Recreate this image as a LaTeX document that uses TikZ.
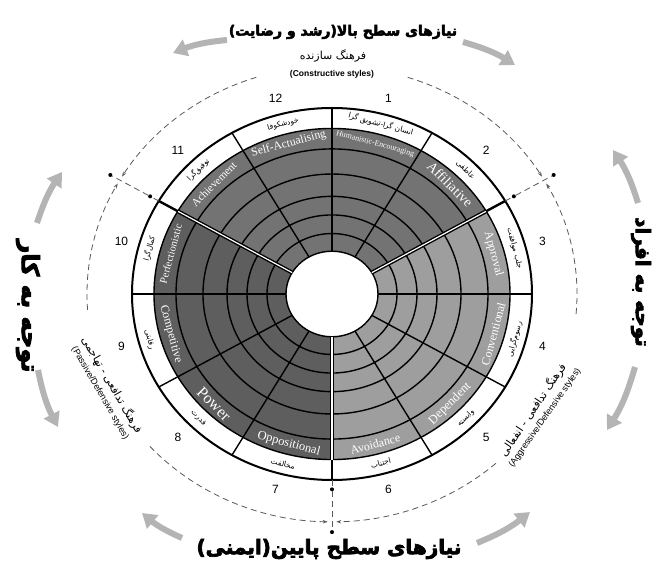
\documentclass[tikz,border=0pt]{standalone}
\usepackage{fontspec}
\setmainfont{Liberation Serif}
\setsansfont{Liberation Sans}
\newfontfamily\farsi[Script=Arabic]{DejaVu Sans}
\newfontfamily\farsiheavy[Script=Arabic, UprightFont={* Bold}, FakeBold=3.5]{DejaVu Sans}
\TeXXeTstate=1
\usetikzlibrary{arrows.meta,positioning}

\definecolor{topgrey}{HTML}{737373}
\definecolor{leftgrey}{HTML}{5E5E5E}
\definecolor{rightgrey}{HTML}{9E9E9E}
\definecolor{arrowgrey}{HTML}{B4B4B4}

\newcommand{\fatext}[1]{\beginR #1\endR}

\tikzset{
  eng/.style={text=white, inner sep=0pt},
  fa/.style={font=\farsi\fontsize{7.5}{8}\selectfont, inner sep=0pt},
  num/.style={font=\sffamily\fontsize{12}{12}\selectfont, inner sep=0pt},
  ring/.style={line width=1.4pt},
  sep/.style={dashed, dash pattern=on 6pt off 4pt, line width=0.8pt, black!65},
  septip/.style={sep, -{Stealth[length=5pt,width=3.5pt]}},
  bigarrow/.style={line width=6pt, arrowgrey, -{Triangle[width=17pt,length=14pt]}},
  dot/.style={circle, fill, inner sep=0pt, minimum size=4pt},
  title/.style={font=\farsiheavy\fontsize{14}{15}\selectfont},
  sidetitle/.style={font=\farsiheavy\fontsize{#1}{#1}\selectfont, rotate=-90},
  sidefa/.style={font=\farsi\fontsize{11}{12}\selectfont, inner sep=0pt},
  sideen/.style={font=\sffamily\fontsize{9}{10}\selectfont, inner sep=0pt},
}

\begin{document}
\begin{tikzpicture}[x=1pt, y=1pt]
\useasboundingbox (-332,-283) rectangle (329,294);

\begin{scope}[yscale=0.93]
  % three groups of styles
  \fill[topgrey] (30:178) arc[start angle=30, end angle=150, radius=178]
    -- (150:46) arc[start angle=150, end angle=30, radius=46] -- cycle;
  \fill[leftgrey] (150:178) arc[start angle=150, end angle=270, radius=178]
    -- (270:46) arc[start angle=270, end angle=150, radius=46] -- cycle;
  \fill[rightgrey] (-90:178) arc[start angle=-90, end angle=30, radius=178]
    -- (30:46) arc[start angle=30, end angle=-90, radius=46] -- cycle;

  % rings and spokes
  \foreach \r in {46,65,85,105,129,156,178}
    \draw[ring] (0,0) circle[radius=\r];
  \draw[line width=2pt] (0,0) circle[radius=200];
  \foreach \a in {0,60,90,120,180,210,240,300,330}
    \draw[ring] (\a:46) -- (\a:200);
  \foreach \a in {30,150,270} {
    \draw[ring, double=white, double distance=1.2pt] (\a:46) -- (\a:178);
    \draw[line width=2.4pt] (\a:178) -- (\a:200);
  }

  % segment labels
  \foreach \a/\rot/\e/\p/\s/\n in {
      75/-15/Humanistic-Encouraging/انسان گرا-تشویق گرا/8/1,
      45/-45/Affiliative/عاطفی/14/2,
      15/-75/Approval/جلب موافقت/12/3,
      -15/75/Conventional/رسوم‌گرایی/12/4,
      -45/45/Dependent/وابسته/12.5/5,
      -75/15/Avoidance/اجتناب/12/6,
      -105/-15/Oppositional/مخالفت/12.5/7,
      -135/-45/Power/قدرت/16/8,
      -165/-75/Competitive/رقابتی/12/9,
      165/75/Perfectionistic/کمال‌گرا/10.5/10,
      135/45/Achievement/توفیق‌گرا/11/11,
      105/15/Self-Actualising/خودشکوفا/11.7/12} {
    \node[fa, rotate=\rot] (fa\n) at (\a:189) {\fatext{\p}};
    \node[eng, rotate=\rot, font=\fontsize{\s}{\s}\selectfont] (en\n) at (\a:167) {\e};
    \node[num] (num\n) at (\a:218) {\n};
  }

  % borders between the three groups
  \foreach \a in {30,150,270} {
    \coordinate (rim\a) at (\a:200);
    \node[dot] (inner\a) at (\a:210) {};
    \node[dot] (outer\a) at (\a:256) {};
    \draw[sep] (rim\a) -- (inner\a) -- (outer\a);
  }

  % dashed arcs
  \coordinate (arcA) at (108:245);
  \coordinate (arcB) at (184:245);
  \coordinate (arcC) at (222:245);
  \coordinate (arcD) at (312:245);
  \coordinate (arcE) at (355:245);
  \coordinate (arcF) at (72:245);
  \draw[septip] (arcA) arc[start angle=108, end angle=149, radius=245];
  \draw[septip] (arcB) arc[start angle=184, end angle=151, radius=245];
  \draw[septip] (arcC) arc[start angle=222, end angle=269, radius=245];
  \draw[septip] (arcD) arc[start angle=312, end angle=271, radius=245];
  \draw[septip] (arcE) arc[start angle=355, end angle=389, radius=245];
  \draw[septip] (arcF) arc[start angle=72, end angle=31, radius=245];
\end{scope}

% titles
\node[title] (toptitle) at (11,262) {\fatext{نیازهای سطح بالا(رشد و رضایت)}};
\node[font=\farsi\fontsize{11}{12}\selectfont] (topfa) at (1,238) {\fatext{فرهنگ سازنده}};
\node[font=\sffamily\bfseries\fontsize{8.5}{9}\selectfont] (topen) at (0,220) {(Constructive styles)};
\node[font=\farsiheavy\fontsize{20}{20}\selectfont] (bottomtitle) at (-3,-255) {\fatext{نیازهای سطح پایین(ایمنی)}};
\node[sidetitle=24] (lefttitle) at (-304,-12) {\fatext{توجه به کار}};
\node[sidetitle=20] (righttitle) at (309,12) {\fatext{توجه به افراد}};

% side labels
\node[sidefa, rotate=-60] (leftfa) at (-220,-91) {\fatext{فرهنگ تدافعی - تهاجمی}};
\node[sideen, rotate=-60] (leften) at (-232,-99) {(Passive/Defensive styles)};
\node[sidefa, rotate=56] (rightfa) at (201,-116) {\fatext{فرهنگ تدافعی - انفعالی}};
\node[sideen, rotate=55] (righten) at (213,-124) {(Aggressive/Defensive styles)};

% big grey arrows
\coordinate (topleftA) at (-105,254);   \coordinate (topleftB) at (-159,241);
\coordinate (toprightA) at (131,252);   \coordinate (toprightB) at (183,229);
\coordinate (righttopA) at (306,91);    \coordinate (righttopB) at (281,144);
\coordinate (rightbotA) at (303,-73);   \coordinate (rightbotB) at (275,-136);
\coordinate (botrightA) at (145,-249);  \coordinate (botrightB) at (198,-218);
\coordinate (botleftA) at (-150,-244);  \coordinate (botleftB) at (-190,-219);
\coordinate (leftbotA) at (-294,-76);   \coordinate (leftbotB) at (-274,-133);
\coordinate (lefttopA) at (-295,71);    \coordinate (lefttopB) at (-270,122);
\draw[bigarrow] (topleftA) to[bend right=8] (topleftB);
\draw[bigarrow] (toprightA) to[bend left=8] (toprightB);
\draw[bigarrow] (righttopA) to[bend right=8] (righttopB);
\draw[bigarrow] (rightbotA) to[bend left=8] (rightbotB);
\draw[bigarrow] (botrightA) to[bend right=8] (botrightB);
\draw[bigarrow] (botleftA) to[bend left=8] (botleftB);
\draw[bigarrow] (leftbotA) to[bend right=8] (leftbotB);
\draw[bigarrow] (lefttopA) to[bend left=8] (lefttopB);
\end{tikzpicture}
\end{document}
